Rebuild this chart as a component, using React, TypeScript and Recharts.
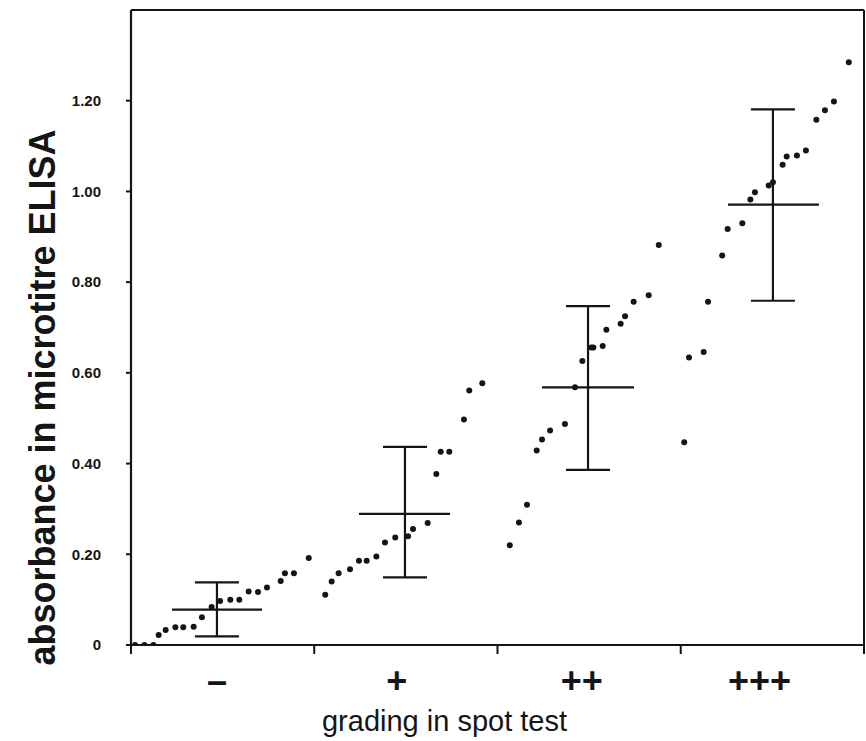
import { ComposedChart, Scatter, XAxis, YAxis, ErrorBar, ReferenceLine, Label } from 'recharts';

// grades read left to right, x in grade units (0..4), y = absorbance
const gradeLabels = ['–', '+', '++', '+++'];
const gradeLabelPos = [0.47, 1.45, 2.46, 3.43];
const gradeEdges = [0, 1, 2, 3, 4];

const negX = [0.022, 0.073, 0.122, 0.151, 0.189, 0.242, 0.285, 0.342, 0.387, 0.44, 0.486, 0.542, 0.591, 0.642, 0.693, 0.742, 0.817, 0.84, 0.889, 0.97];
const negY = [0, 0, 0, 0.022, 0.033, 0.039, 0.039, 0.04, 0.061, 0.084, 0.097, 0.1, 0.1, 0.118, 0.117, 0.127, 0.141, 0.158, 0.158, 0.192];

const onePlusX = [1.06, 1.095, 1.133, 1.195, 1.244, 1.286, 1.339, 1.386, 1.442, 1.512, 1.539, 1.619, 1.666, 1.69, 1.737, 1.817, 1.846, 1.917];
const onePlusY = [0.111, 0.14, 0.158, 0.167, 0.186, 0.186, 0.195, 0.226, 0.237, 0.24, 0.256, 0.269, 0.377, 0.426, 0.426, 0.497, 0.561, 0.577];

const twoPlusX = [2.067, 2.117, 2.161, 2.214, 2.243, 2.287, 2.368, 2.423, 2.463, 2.512, 2.523, 2.574, 2.594, 2.672, 2.696, 2.743, 2.825, 2.88];
const twoPlusY = [0.22, 0.27, 0.309, 0.429, 0.453, 0.473, 0.487, 0.568, 0.626, 0.656, 0.656, 0.659, 0.695, 0.708, 0.725, 0.757, 0.771, 0.882];

const threePlusX = [3.019, 3.045, 3.125, 3.149, 3.226, 3.256, 3.336, 3.38, 3.405, 3.48, 3.503, 3.556, 3.578, 3.634, 3.683, 3.74, 3.787, 3.836, 3.917];
const threePlusY = [0.447, 0.634, 0.646, 0.757, 0.859, 0.917, 0.93, 0.982, 0.998, 1.013, 1.02, 1.059, 1.077, 1.079, 1.09, 1.158, 1.179, 1.198, 1.285];

// mean +/- range per grade
const meanCenter = [0.469, 1.495, 2.494, 3.503];
const meanValue = [0.078, 0.289, 0.568, 0.971];
const rangeLow = [0.019, 0.149, 0.386, 0.759];
const rangeHigh = [0.138, 0.437, 0.747, 1.181];
const meanLeft = [0.224, 1.244, 2.243, 3.258];
const meanRight = [0.715, 1.741, 2.745, 3.754];

const yTicks = [0, 0.2, 0.4, 0.6, 0.8, 1.0, 1.2];

const INK = '#151515';
const FONT = 'Liberation Sans, Arial, sans-serif';

const toPoints = (xs: number[], ys: number[]) => xs.map((x, i) => ({ x, y: ys[i] }));

const dotGroups = [
  toPoints(negX, negY),
  toPoints(onePlusX, onePlusY),
  toPoints(twoPlusX, twoPlusY),
  toPoints(threePlusX, threePlusY),
];

const meanData = meanCenter.map((x, i) => ({
  x,
  y: meanValue[i],
  err: [meanValue[i] - rangeLow[i], rangeHigh[i] - meanValue[i]],
}));

const Dot = (props: any) => <circle cx={props.cx} cy={props.cy} r={3} fill={INK} />;

const GradeTick = (props: any) => {
  const { x, y, payload } = props;
  const idx = gradeLabelPos.indexOf(payload.value);
  if (idx >= 0) {
    return (
      <text x={x} y={y + 48} textAnchor="middle" fontFamily={FONT} fontWeight="bold" fontSize={36} fill={INK}>
        {gradeLabels[idx]}
      </text>
    );
  }
  return <line x1={x} y1={y} x2={x} y2={y + 9} stroke={INK} strokeWidth={2} />;
};

export default function App() {
  return (
    <div style={{ position: 'absolute', left: 0, top: 0, background: '#fff' }}>
      <ComposedChart width={866} height={741} margin={{ top: 10, right: 2, bottom: 0, left: 0 }}>
        <XAxis
          dataKey="x"
          type="number"
          domain={[0, 4]}
          ticks={[...gradeEdges, ...gradeLabelPos].sort((a, b) => a - b)}
          interval={0}
          height={96}
          tickLine={false}
          tickSize={0}
          tickMargin={0}
          tick={<GradeTick />}
          axisLine={{ stroke: INK, strokeWidth: 2.2 }}
          allowDataOverflow
        >
          <Label
            content={(p: any) => (
              <text
                x={p.viewBox.x + p.viewBox.width / 2 - 53}
                y={p.viewBox.y + 86}
                textAnchor="middle"
                fontFamily={FONT}
                fontSize={29}
                fill={INK}
              >
                grading in spot test
              </text>
            )}
          />
        </XAxis>
        <YAxis
          dataKey="y"
          type="number"
          domain={[0, 1.4]}
          ticks={yTicks}
          width={131}
          tickSize={5}
          tickMargin={25}
          tickLine={{ stroke: INK, strokeWidth: 2 }}
          axisLine={{ stroke: INK, strokeWidth: 2.2 }}
          tickFormatter={(v: number) => (v === 0 ? '0' : v.toFixed(2))}
          tick={{ fill: INK, fontSize: 15, fontWeight: 'bold', fontFamily: FONT }}
          allowDataOverflow
        >
          <Label
            content={(p: any) => {
              const cx = p.viewBox.x + 42;
              const cy = p.viewBox.y + p.viewBox.height / 2 + 70;
              return (
                <text
                  x={cx}
                  y={cy}
                  transform={`rotate(-90, ${cx}, ${cy})`}
                  textAnchor="middle"
                  dominantBaseline="central"
                  fontFamily={FONT}
                  fontWeight="bold"
                  fontSize={36}
                  fill={INK}
                >
                  absorbance in microtitre ELISA
                </text>
              );
            }}
          />
        </YAxis>

        <ReferenceLine y={1.4} stroke={INK} strokeWidth={2} />
        <ReferenceLine x={4} stroke={INK} strokeWidth={2} />

        {meanCenter.map((_, i) => (
          <ReferenceLine
            key={`mean-${i}`}
            segment={[
              { x: meanLeft[i], y: meanValue[i] },
              { x: meanRight[i], y: meanValue[i] },
            ]}
            stroke={INK}
            strokeWidth={2.2}
          />
        ))}

        <Scatter data={meanData} dataKey="y" shape={() => <g />} isAnimationActive={false}>
          <ErrorBar dataKey="err" direction="y" width={22} stroke={INK} strokeWidth={2.2} isAnimationActive={false} />
        </Scatter>

        {dotGroups.map((pts, i) => (
          <Scatter key={`grade-${i}`} data={pts} dataKey="y" shape={<Dot />} isAnimationActive={false} />
        ))}
      </ComposedChart>
    </div>
  );
}
